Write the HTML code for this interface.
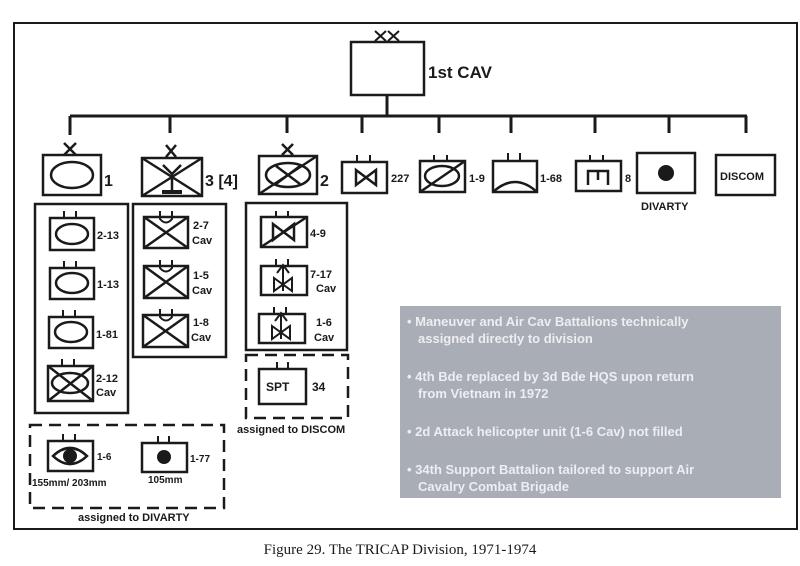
<!DOCTYPE html>
<html><head><meta charset="utf-8"><style>
html,body{margin:0;padding:0;background:#fff;}
svg{display:block;}
text{font-family:"Liberation Sans",sans-serif;font-weight:bold;fill:#1a1a1a;}
</style></head><body>
<svg width="800" height="566" viewBox="0 0 800 566" xmlns="http://www.w3.org/2000/svg">
<g fill="none" stroke="#1a1a1a" stroke-width="2.5">
<rect x="14" y="23" width="783" height="506" stroke-width="2"/>
<rect x="351" y="42" width="73" height="53"/>
<path d="M375 31 L386 41 M386 31 L375 41 M388 31 L399 41 M399 31 L388 41" stroke-width="2"/>
<path d="M387 96 V116 M70 116 H747" stroke-width="3"/>
<path d="M70 116 V135 M170 116 V133 M287 116 V133 M362 116 V133 M439 116 V133 M511 116 V133 M595 116 V133 M669 116 V133 M746 116 V133" stroke-width="3"/>
<path d="M64 143 L76 155 M76 143 L64 155" stroke-width="2.5"/>
<rect x="43" y="155" width="58" height="40"/>
<ellipse cx="72" cy="175" rx="21" ry="13"/>
<path d="M166 145 L176 157 M176 145 L166 157"/>
<rect x="142" y="158" width="60" height="38"/>
<path d="M142 158 L202 196 M202 158 L142 196"/>
<path d="M163 165 L172 174 L181 165 M172 174 V191" stroke-width="2.5"/>
<path d="M162 192 H182" stroke-width="4"/>
<path d="M282 144 L293 155 M293 144 L282 155"/>
<rect x="259" y="156" width="58" height="38"/>
<ellipse cx="288" cy="175" rx="22" ry="12"/>
<path d="M259 194 L317 156 M276 166 L300 184 M300 166 L276 184"/>
<rect x="342" y="162" width="45" height="31"/>
<path d="M357 155 V162 M370 155 V162" stroke-width="2"/>
<path d="M356 170 L376 185 V170 L356 185 Z"/>
<rect x="420" y="161" width="45" height="31"/>
<path d="M434 155 V161 M447 155 V161" stroke-width="2"/>
<ellipse cx="442" cy="176" rx="17" ry="10"/>
<path d="M420 192 L465 161"/>
<rect x="493" y="161" width="44" height="31"/>
<path d="M508 153 V161 M520 153 V161" stroke-width="2"/>
<path d="M493 192 Q515 172 537 192"/>
<rect x="576" y="161" width="45" height="30"/>
<path d="M590 155 V161 M603 155 V161" stroke-width="2"/>
<path d="M588 185 V171 H608 V185 M598 171 V180"/>
<rect x="637" y="153" width="58" height="40"/>
<rect x="716" y="155" width="59" height="40"/>
<rect x="35" y="204" width="93" height="209"/>
<rect x="50" y="218" width="44" height="32"/><path d="M64 211 V218 M76 211 V218" stroke-width="2"/><ellipse cx="72" cy="234" rx="16" ry="10"/>
<rect x="50" y="268" width="44" height="31"/><path d="M64 261 V268 M76 261 V268" stroke-width="2"/><ellipse cx="72" cy="283" rx="16" ry="10"/>
<rect x="49" y="317" width="44" height="31"/><path d="M63 310 V317 M75 310 V317" stroke-width="2"/><ellipse cx="71" cy="332" rx="16" ry="10"/>
<rect x="48" y="366" width="45" height="35"/><path d="M62 359 V366 M74 359 V366" stroke-width="2"/><ellipse cx="70" cy="383" rx="18" ry="10"/><path d="M48 366 L93 401 M93 366 L48 401"/>
<rect x="133" y="204" width="93" height="153"/>
<rect x="144" y="217" width="44" height="31"/><path d="M144 217 L188 248 M188 217 L144 248"/><path d="M160 211 V219 Q166 226 172 219 V211" stroke-width="2"/>
<rect x="144" y="266" width="44" height="32"/><path d="M144 266 L188 298 M188 266 L144 298"/><path d="M160 260 V268 Q166 275 172 268 V260" stroke-width="2"/>
<rect x="143" y="315" width="45" height="32"/><path d="M143 315 L188 347 M188 315 L143 347"/><path d="M160 309 V317 Q166 324 172 317 V309" stroke-width="2"/>
<rect x="246" y="203" width="101" height="147"/>
<rect x="261" y="217" width="46" height="30"/><path d="M276 211 V217 M288 211 V217" stroke-width="2"/><path d="M261 247 L307 217"/><path d="M273 224 L294 240 V224 L273 240 Z"/>
<rect x="261" y="266" width="46" height="29"/><path d="M276 259 V266 M288 259 V266" stroke-width="2"/><path d="M274 278 L292 291 V278 L274 291 Z M283 265 V291 M277 273 L283 265 L289 273" stroke-width="2"/>
<rect x="259" y="314" width="46" height="29"/><path d="M274 307 V314 M286 307 V314" stroke-width="2"/><path d="M272 326 L290 339 V326 L272 339 Z M281 313 V339 M275 321 L281 313 L287 321" stroke-width="2"/>
<rect x="246" y="355" width="102" height="63" stroke-dasharray="12 7"/>
<rect x="259" y="369" width="47" height="35"/><path d="M277 362 V369 M288 362 V369" stroke-width="2"/>
<rect x="30" y="425" width="194" height="83" stroke-dasharray="12 7"/>
<rect x="48" y="441" width="45" height="30"/><path d="M63 434 V441 M75 434 V441" stroke-width="2"/><path d="M53 456 Q70 440 87 456 Q70 472 53 456 Z"/>
<rect x="142" y="443" width="45" height="29"/><path d="M158 436 V443 M169 436 V443" stroke-width="2"/>
</g>
<g fill="#1a1a1a">
<circle cx="666" cy="173" r="8"/>
<circle cx="70" cy="456" r="7"/>
<circle cx="164" cy="457" r="7"/>
</g>
<rect x="400" y="306" width="381" height="192" fill="#a9adb5"/>
<g style="font-size:13px;">
<text x="407" y="326" style="fill:#eceef2">• Maneuver and Air Cav Battalions technically</text>
<text x="418" y="343" style="fill:#eceef2">assigned directly to division</text>
<text x="407" y="381" style="fill:#eceef2">• 4th Bde replaced by 3d Bde HQS upon return</text>
<text x="418" y="398" style="fill:#eceef2">from Vietnam in 1972</text>
<text x="407" y="436" style="fill:#eceef2">• 2d Attack helicopter unit (1-6 Cav) not filled</text>
<text x="407" y="474" style="fill:#eceef2">• 34th Support Battalion tailored to support  Air</text>
<text x="418" y="491" style="fill:#eceef2">Cavalry Combat Brigade</text>
</g>
<text x="428" y="78" font-size="17">1st CAV</text>
<text x="104" y="186" font-size="16">1</text>
<text x="205" y="186" font-size="16">3 [4]</text>
<text x="320" y="186" font-size="16">2</text>
<text x="391" y="182" font-size="11">227</text>
<text x="469" y="182" font-size="11">1-9</text>
<text x="540" y="182" font-size="11">1-68</text>
<text x="625" y="182" font-size="11">8</text>
<text x="641" y="210" font-size="11">DIVARTY</text>
<text x="720" y="180" font-size="11">DISCOM</text>
<g font-size="11">
<text x="97" y="239">2-13</text>
<text x="97" y="288">1-13</text>
<text x="96" y="338">1-81</text>
<text x="96" y="382">2-12</text><text x="96" y="396">Cav</text>
<text x="193" y="229">2-7</text><text x="192" y="244">Cav</text>
<text x="193" y="279">1-5</text><text x="192" y="294">Cav</text>
<text x="193" y="326">1-8</text><text x="191" y="341">Cav</text>
<text x="310" y="237">4-9</text>
<text x="310" y="278">7-17</text><text x="316" y="292">Cav</text>
<text x="316" y="326">1-6</text><text x="314" y="341">Cav</text>
<text x="266" y="391" font-size="12">SPT</text>
<text x="312" y="391" font-size="12">34</text>
<text x="237" y="433">assigned to DISCOM</text>
<text x="97" y="460" font-size="10">1-6</text>
<text x="190" y="462" font-size="10">1-77</text>
<text x="32" y="486" font-size="10">155mm/ 203mm</text>
<text x="148" y="483" font-size="10">105mm</text>
<text x="78" y="521">assigned to DIVARTY</text>
</g>
<text x="400" y="554" text-anchor="middle" style="font-family:'Liberation Serif',serif;font-weight:normal;font-size:15px;">Figure 29. The TRICAP Division, 1971-1974</text>
</svg>
</body></html>
